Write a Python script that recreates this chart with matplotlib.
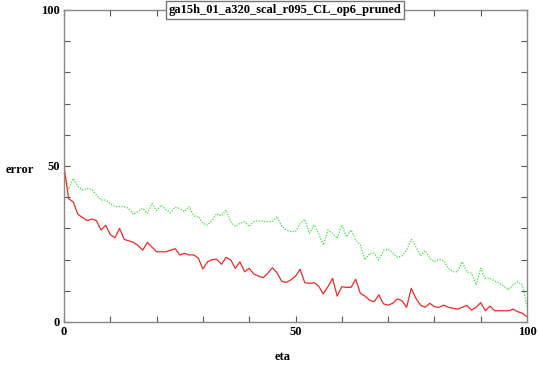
import matplotlib
matplotlib.use("Agg")
import matplotlib.pyplot as plt
import numpy as np

title = "ga15h_01_a320_scal_r095_CL_op6_pruned"
eta = list(range(0, 101))
red_err = [50, 39.5, 38.5, 34.5, 33.5, 32.5, 33, 32.5, 29.5, 31,
           28, 27, 30, 26.5, 26, 25.5, 24.5, 23, 25.5, 24,
           22.5, 22.5, 22.5, 23, 23.5, 21.5, 22, 21.5, 21.5, 20.5,
           17, 19.3, 20, 20.1, 18.5, 20.7, 19.9, 17.2, 19.3, 16.1,
           17.2, 15.4, 14.7, 14.2, 15.6, 17.4, 15.8, 13.1, 12.7, 13.5,
           14.7, 16.9, 12.6, 12.4, 12.6, 11.5, 9, 11.3, 14, 8.3,
           11.3, 11.1, 11.1, 13.7, 9.2, 8.3, 7, 6.5, 8.7, 5.8,
           5.4, 6, 7.4, 6.8, 4.7, 10.8, 7.6, 5.4, 4.7, 6,
           4.9, 4.7, 5.4, 4.7, 4.4, 4.1, 4.7, 5.3, 3.8, 4.7,
           6.2, 3.6, 5.1, 3.6, 3.6, 3.6, 3.6, 4.1, 3.3, 2.8,
           1.7]
green_err = [48, 42.5, 46, 43.5, 42.3, 42.8, 42.5, 40.7, 39.1, 39.1,
             38, 37, 37, 37, 36.4, 34.5, 35.4, 36.4, 34.8, 38,
             35.7, 37.5, 36, 35, 36.8, 36.4, 35.4, 37, 34, 33.8,
             31.6, 31.1, 32.7, 34.8, 34, 35.9, 32.2, 30.6, 31.6, 32.2,
             30.6, 32.2, 32.5, 32.2, 32.2, 32.2, 33.8, 30.8, 29.5, 29,
             29, 31.6, 32.9, 28.4, 31.1, 28.4, 24.7, 29.5, 28.4, 26.8,
             31.1, 27.3, 29.5, 26.3, 24.7, 19.9, 22, 22, 19.9, 22.9,
             23.3, 22.2, 20.7, 21.2, 23.1, 26.5, 24.1, 21.2, 22.9, 20.4,
             19.3, 20.1, 19.7, 17.2, 16.1, 16.1, 19.3, 16.1, 15.6, 11.9,
             17.2, 14, 14, 13.2, 12.4, 11.5, 10.3, 11.9, 12.9, 11.9,
             5]
tick_vals = [0, 50, 100]

plt.rcParams['font.family'] = ['Liberation Serif', 'DejaVu Serif']
plt.rcParams['font.weight'] = 'bold'

fig = plt.figure(figsize=(5.39, 3.70), dpi=100)
ax = fig.add_axes([64/539, 48/370, 463/539, 312/370])

ax.plot(eta, green_err, color='#3ee03e', linestyle=(0, (1, 1.2)), linewidth=0.9)
ax.plot(eta, red_err, color='#ee2a2a', linestyle='-', linewidth=0.9)

ax.set_xlim(0, 100)
ax.set_ylim(0, 100)
ax.set_xticks(np.arange(0, 101, 10))
ax.set_yticks(np.arange(0, 101, 10))
ax.set_xticklabels([str(v) if v in tick_vals else '' for v in range(0, 101, 10)],
                   fontsize=9, fontweight='bold')
ax.set_yticklabels([str(v) if v in tick_vals else '' for v in range(0, 101, 10)],
                   fontsize=9, fontweight='bold')
ax.tick_params(direction='in', length=4, width=0.8, color='#555555',
               top=True, right=True, pad=3)
for s in ax.spines.values():
    s.set_color('#888888')
    s.set_linewidth(1.0)

fig.text(20/539, 1 - 170/370, 'error', fontsize=9, fontweight='bold',
         ha='center', va='center')
fig.text(283/539, 1 - 357/370, 'eta', fontsize=9, fontweight='bold',
         ha='center', va='center')
fig.text(285/539, 1 - 10/370, title, fontsize=9, fontweight='bold',
         ha='center', va='center',
         bbox=dict(boxstyle='square,pad=0.22', facecolor='white',
                   edgecolor='#777777', linewidth=1.0))

fig.savefig('out.png', dpi=100)
